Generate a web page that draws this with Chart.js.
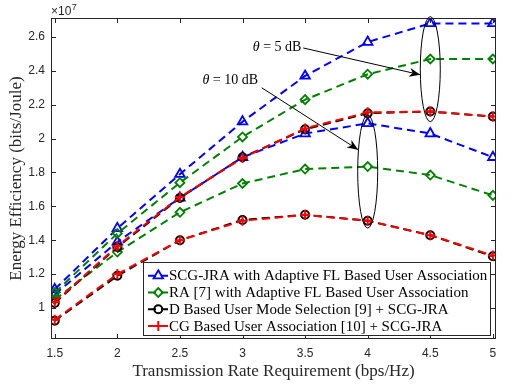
<!DOCTYPE html>
<html>
<head>
<meta charset="utf-8">
<script src="https://cdn.jsdelivr.net/npm/chart.js@4.4.0/dist/chart.umd.min.js"></script>
<style>
html,body{margin:0;padding:0;background:#fff}
#wrap{width:513px;height:386px}
</style>
</head>
<body>
<div id="wrap"><canvas id="ee-chart" width="513" height="386"></canvas></div>
<script>
// values in units of 1e7 bits/Joule
const rates = [1.5, 2, 2.5, 3, 3.5, 4, 4.5, 5]

const scgJra5 = [1.11, 1.47, 1.79, 2.10, 2.37, 2.57, 2.68, 2.68]
const scgJra10 = [1.08, 1.39, 1.65, 1.89, 2.03, 2.09, 2.03, 1.89]
const ra5 = [1.09, 1.44, 1.74, 2.01, 2.23, 2.38, 2.47, 2.47]
const ra10 = [1.05, 1.33, 1.565, 1.735, 1.82, 1.835, 1.785, 1.665]
const dMode5 = [1.03, 1.36, 1.65, 1.89, 2.055, 2.15, 2.16, 2.13]
const dMode10 = [0.925, 1.19, 1.40, 1.52, 1.55, 1.515, 1.43, 1.305]
const cg5 = [1.035, 1.365, 1.655, 1.885, 2.06, 2.155, 2.16, 2.13]
const cg10 = [0.93, 1.20, 1.40, 1.515, 1.55, 1.515, 1.43, 1.31]

const xTicks = [1.5, 2, 2.5, 3, 3.5, 4, 4.5, 5]
const yTicks = [1, 1.2, 1.4, 1.6, 1.8, 2, 2.2, 2.4, 2.6]

const legendLabels = [
"SCG-JRA with Adaptive FL Based User Association",
"RA [7] with Adaptive FL Based User Association",
"D Based User Mode Selection [9] + SCG-JRA",
"CG Based User Association [10] + SCG-JRA"
]

const BLUE = "#0000ff"
const GREEN = "#008000"
const BLACK = "#000000"
const RED = "#ff0000"
const DASH = [8, 5]

const styles = [
{color:BLUE, point:"triangle", r:5.5, bw:1.8, order:3},
{color:GREEN, point:"rectRot", r:4.5, bw:1.8, order:2},
{color:BLACK, point:"circle", r:4, bw:2, order:1},
{color:RED, point:"cross", r:5, bw:2, order:0}
]

const series = [
[scgJra5, scgJra10],
[ra5, ra10],
[dMode5, dMode10],
[cg5, cg10]
]

const datasets = []
series.forEach((pair, i)=>{
const s = styles[i]
pair.forEach(vals=>{
datasets.push({
label: legendLabels[i],
data: rates.map((x, k)=>({x, y: vals[k]})),
borderColor: s.color,
borderWidth: 2,
borderDash: DASH,
fill: false,
tension: 0,
order: s.order,
pointStyle: s.point,
pointRadius: s.r,
pointBorderWidth: s.bw,
pointBorderColor: s.color,
pointBackgroundColor: "rgba(0,0,0,0)"
})
})
})

function marker(ctx, style, x, y){
const s = style
ctx.save()
ctx.strokeStyle = s.color
ctx.lineWidth = s.bw
ctx.setLineDash([])
ctx.beginPath()
if(s.point === "triangle"){
const r = s.r
ctx.moveTo(x, y - r)
ctx.lineTo(x + r * 0.866, y + r * 0.5)
ctx.lineTo(x - r * 0.866, y + r * 0.5)
ctx.closePath()
} else if(s.point === "rectRot"){
const r = s.r
ctx.moveTo(x, y - r)
ctx.lineTo(x + r, y)
ctx.lineTo(x, y + r)
ctx.lineTo(x - r, y)
ctx.closePath()
} else if(s.point === "circle"){
ctx.arc(x, y, s.r, 0, Math.PI * 2)
} else {
ctx.moveTo(x - s.r, y); ctx.lineTo(x + s.r, y)
ctx.moveTo(x, y - s.r); ctx.lineTo(x, y + s.r)
}
ctx.stroke()
ctx.restore()
}

function arrow(ctx, x1, y1, x2, y2){
ctx.beginPath()
ctx.moveTo(x1, y1)
ctx.lineTo(x2, y2)
ctx.stroke()
const a = Math.atan2(y2 - y1, x2 - x1)
const L = 11, W = 4.5
const bx = x2 - L * Math.cos(a), by = y2 - L * Math.sin(a)
const nx = x2 - L * 0.7 * Math.cos(a), ny = y2 - L * 0.7 * Math.sin(a)
ctx.beginPath()
ctx.moveTo(x2, y2)
ctx.lineTo(bx - W * Math.sin(a), by + W * Math.cos(a))
ctx.lineTo(nx, ny)
ctx.lineTo(bx + W * Math.sin(a), by - W * Math.cos(a))
ctx.closePath()
ctx.fill()
}

function thetaLabel(ctx, rest, x, y){
ctx.font = 'italic 14px "Liberation Serif"'
ctx.fillText("\u03b8", x, y)
const w = ctx.measureText("\u03b8").width
ctx.font = '14px "Liberation Serif"'
ctx.fillText(rest, x + w, y)
}

const overlay = {
id:"overlay",
afterDatasetsDraw(chart){
const {ctx, chartArea:a, scales} = chart
const x = scales.x, y = scales.y
const px = v => x.getPixelForValue(v)
const py = v => y.getPixelForValue(v)
ctx.save()

// axes box + inward ticks
ctx.strokeStyle = "#262626"
ctx.lineWidth = 1
ctx.strokeRect(Math.round(a.left) + 0.5, Math.round(a.top) + 0.5, Math.round(a.right - a.left) - 1, Math.round(a.bottom - a.top) - 1)
ctx.beginPath()
xTicks.forEach(v=>{
const p = Math.round(px(v)) + 0.5
ctx.moveTo(p, a.bottom); ctx.lineTo(p, a.bottom - 5)
ctx.moveTo(p, a.top); ctx.lineTo(p, a.top + 5)
})
yTicks.forEach(v=>{
const p = Math.round(py(v)) + 0.5
ctx.moveTo(a.left, p); ctx.lineTo(a.left + 5, p)
ctx.moveTo(a.right, p); ctx.lineTo(a.right - 5, p)
})
ctx.stroke()

// exponent
ctx.fillStyle = "#262626"
ctx.textBaseline = "alphabetic"
ctx.textAlign = "left"
ctx.font = '12px "Liberation Sans"'
ctx.fillText("\u00d710", a.left, a.top - 3)
const w = ctx.measureText("\u00d710").width
ctx.font = '9px "Liberation Sans"'
ctx.fillText("7", a.left + w + 0.5, a.top - 8)

// annotations
ctx.strokeStyle = "#000"
ctx.fillStyle = "#000"
ctx.lineWidth = 1
ctx.beginPath()
ctx.ellipse(px(4.5), py(2.41), 10, py(2.41) - py(2.72), 0, 0, Math.PI * 2)
ctx.stroke()
ctx.beginPath()
ctx.ellipse(px(4), py(1.806), 10, py(1.806) - py(2.14), 0, 0, Math.PI * 2)
ctx.stroke()

ctx.textBaseline = "middle"
thetaLabel(ctx, " = 5 dB", px(3.082), py(2.537))
thetaLabel(ctx, " = 10 dB", px(2.68), py(2.347))
arrow(ctx, px(3.485), py(2.535), px(4.42), py(2.377))
arrow(ctx, px(3.154), py(2.30), px(3.924), py(1.934))

// legend
const lx = 143.5, ly = 262.5, lw = 347, lh = 73
ctx.fillStyle = "#fff"
ctx.fillRect(lx, ly, lw, lh)
ctx.strokeStyle = "#262626"
ctx.strokeRect(lx, ly, lw, lh)
ctx.font = '15px "Liberation Serif"'
ctx.textBaseline = "middle"
legendLabels.forEach((t, i)=>{
const s = styles[i]
const yy = 275.7 + i * 16.8
ctx.strokeStyle = s.color
ctx.lineWidth = 2
ctx.setLineDash(DASH)
ctx.beginPath()
ctx.moveTo(148, yy); ctx.lineTo(168, yy)
ctx.stroke()
ctx.setLineDash([])
marker(ctx, s, 158.3, yy)
ctx.fillStyle = "#000"
ctx.fillText(t, 169, yy + 0.5)
})

ctx.restore()
}
}

new Chart(document.getElementById("ee-chart").getContext("2d"), {
type:"line",
data:{datasets},
options:{
responsive:false,
animation:false,
devicePixelRatio:1,
layout:{padding:{top:18, right:17, left:0, bottom:0}},
plugins:{
legend:{display:false},
tooltip:{enabled:false}
},
scales:{
x:{
type:"linear",
min:1.47,
max:5.025,
afterBuildTicks: s => { s.ticks = xTicks.map(v=>({value:v})) },
afterFit: s => { s.height = 47 },
grid:{display:false, drawTicks:false},
border:{display:false},
ticks:{
autoSkip:false,
maxRotation:0,
padding:7,
color:"#262626",
font:{family:"Liberation Sans", size:12},
callback: v => String(v)
},
title:{
display:true,
text:"Transmission Rate Requirement (bps/Hz)",
color:"#262626",
font:{family:"Liberation Serif", size:17},
padding:{top:0, bottom:4}
}
},
y:{
type:"linear",
min:0.817,
max:2.712,
afterBuildTicks: s => { s.ticks = yTicks.map(v=>({value:v})) },
afterFit: s => { s.width = 51 },
grid:{display:false, drawTicks:false},
border:{display:false},
ticks:{
autoSkip:false,
padding:6,
color:"#262626",
font:{family:"Liberation Sans", size:12},
callback: v => String(v)
},
title:{
display:true,
text:"Energy Efficiency (bits/Joule)",
color:"#262626",
font:{family:"Liberation Serif", size:17},
padding:{top:6, bottom:0}
}
}
}
},
plugins:[overlay]
})
</script>
</body>
</html>
